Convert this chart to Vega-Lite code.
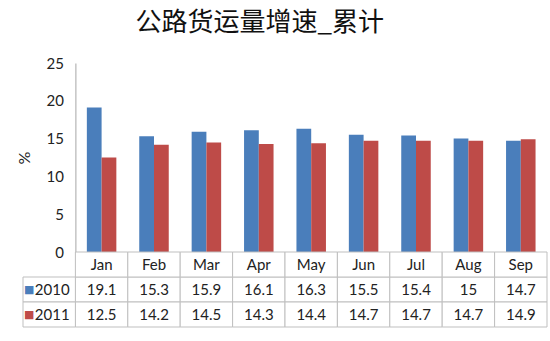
{
  "$schema": "https://vega.github.io/schema/vega-lite/v6.json",
  "background": "white",
  "padding": {"left": 16, "top": 10, "right": 10, "bottom": 5},
  "bounds": "flush",
  "title": {
    "text": "公路货运量增速_累计",
    "font": "Noto Sans CJK SC",
    "fontSize": 26,
    "fontWeight": "normal",
    "color": "#111111",
    "anchor": "middle",
    "dx": -22,
    "offset": 20
  },
  "datasets": {
    "growth": [
      {"month": "Jan", "year": "2010", "value": 19.1},
      {"month": "Feb", "year": "2010", "value": 15.3},
      {"month": "Mar", "year": "2010", "value": 15.9},
      {"month": "Apr", "year": "2010", "value": 16.1},
      {"month": "May", "year": "2010", "value": 16.3},
      {"month": "Jun", "year": "2010", "value": 15.5},
      {"month": "Jul", "year": "2010", "value": 15.4},
      {"month": "Aug", "year": "2010", "value": 15},
      {"month": "Sep", "year": "2010", "value": 14.7},
      {"month": "Jan", "year": "2011", "value": 12.5},
      {"month": "Feb", "year": "2011", "value": 14.2},
      {"month": "Mar", "year": "2011", "value": 14.5},
      {"month": "Apr", "year": "2011", "value": 14.3},
      {"month": "May", "year": "2011", "value": 14.4},
      {"month": "Jun", "year": "2011", "value": 14.7},
      {"month": "Jul", "year": "2011", "value": 14.7},
      {"month": "Aug", "year": "2011", "value": 14.7},
      {"month": "Sep", "year": "2011", "value": 14.9}
    ],
    "months": [
      {"month": "Jan"}, {"month": "Feb"}, {"month": "Mar"},
      {"month": "Apr"}, {"month": "May"}, {"month": "Jun"},
      {"month": "Jul"}, {"month": "Aug"}, {"month": "Sep"}
    ],
    "series": [{"year": "2010"}, {"year": "2011"}]
  },
  "spacing": 0,
  "vconcat": [
    {
      "width": 524,
      "height": 189,
      "data": {"name": "growth"},
      "mark": {"type": "bar"},
      "encoding": {
        "x": {
          "field": "month",
          "type": "nominal",
          "scale": {
            "domain": [" ", "Jan", "Feb", "Mar", "Apr", "May", "Jun", "Jul", "Aug", "Sep"],
            "paddingInner": 0.437,
            "paddingOuter": 0.2185
          },
          "axis": null
        },
        "xOffset": {"field": "year", "type": "nominal", "scale": {"paddingInner": 0}},
        "y": {
          "field": "value",
          "type": "quantitative",
          "scale": {"domain": [0, 25]},
          "axis": {
            "title": "%",
            "values": [0, 5, 10, 15, 20, 25],
            "grid": false,
            "ticks": false,
            "offset": -52.4,
            "domainColor": "#a6a6a6",
            "labelFont": "Lato",
            "labelFontSize": 15,
            "labelColor": "#222222",
            "labelPadding": 12,
            "titleFont": "Lato",
            "titleFontSize": 16,
            "titleFontWeight": "normal",
            "titleColor": "#222222",
            "titlePadding": 14
          }
        },
        "color": {
          "field": "year",
          "type": "nominal",
          "scale": {"domain": ["2010", "2011"], "range": ["#4a7ebb", "#be4b48"]},
          "legend": null
        }
      }
    },
    {
      "width": 524,
      "height": 75,
      "layer": [
        {
          "data": {"name": "growth"},
          "mark": {"type": "rect", "fill": "white", "stroke": "#bfbfbf", "strokeWidth": 1},
          "encoding": {
            "x": {
              "field": "month",
              "type": "nominal",
              "scale": {
                "domain": [" ", "Jan", "Feb", "Mar", "Apr", "May", "Jun", "Jul", "Aug", "Sep"],
                "paddingInner": 0,
                "paddingOuter": 0
              },
              "axis": null
            },
            "y": {
              "field": "year",
              "type": "nominal",
              "scale": {"domain": ["hdr", "2010", "2011"], "paddingInner": 0, "paddingOuter": 0},
              "axis": null
            }
          }
        },
        {
          "data": {"name": "months"},
          "mark": {"type": "rect", "fill": "white", "stroke": "#bfbfbf", "strokeWidth": 1},
          "encoding": {
            "x": {"field": "month", "type": "nominal"},
            "y": {"datum": "hdr", "type": "nominal"}
          }
        },
        {
          "data": {"name": "series"},
          "mark": {"type": "rect", "fill": "white", "stroke": "#bfbfbf", "strokeWidth": 1},
          "encoding": {
            "x": {"datum": " ", "type": "nominal"},
            "y": {"field": "year", "type": "nominal"}
          }
        },
        {
          "data": {"name": "growth"},
          "mark": {"type": "text", "font": "Lato", "fontSize": 15, "color": "#222222"},
          "encoding": {
            "x": {"field": "month", "type": "nominal"},
            "y": {"field": "year", "type": "nominal"},
            "text": {"field": "value", "type": "nominal"}
          }
        },
        {
          "data": {"name": "months"},
          "mark": {"type": "text", "font": "Lato", "fontSize": 15, "color": "#222222"},
          "encoding": {
            "x": {"field": "month", "type": "nominal"},
            "y": {"datum": "hdr", "type": "nominal"},
            "text": {"field": "month", "type": "nominal"}
          }
        },
        {
          "data": {"name": "series"},
          "mark": {"type": "text", "text": "■", "font": "DejaVu Sans", "fontSize": 11, "dx": -20},
          "encoding": {
            "x": {"datum": " ", "type": "nominal"},
            "y": {"field": "year", "type": "nominal"},
            "color": {
              "field": "year",
              "type": "nominal",
              "scale": {"domain": ["2010", "2011"], "range": ["#4a7ebb", "#be4b48"]},
              "legend": null
            }
          }
        },
        {
          "data": {"name": "series"},
          "mark": {"type": "text", "font": "Lato", "fontSize": 15, "color": "#222222", "dx": 3},
          "encoding": {
            "x": {"datum": " ", "type": "nominal"},
            "y": {"field": "year", "type": "nominal"},
            "text": {"field": "year", "type": "nominal"}
          }
        }
      ]
    }
  ],
  "config": {"view": {"stroke": null}}
}
